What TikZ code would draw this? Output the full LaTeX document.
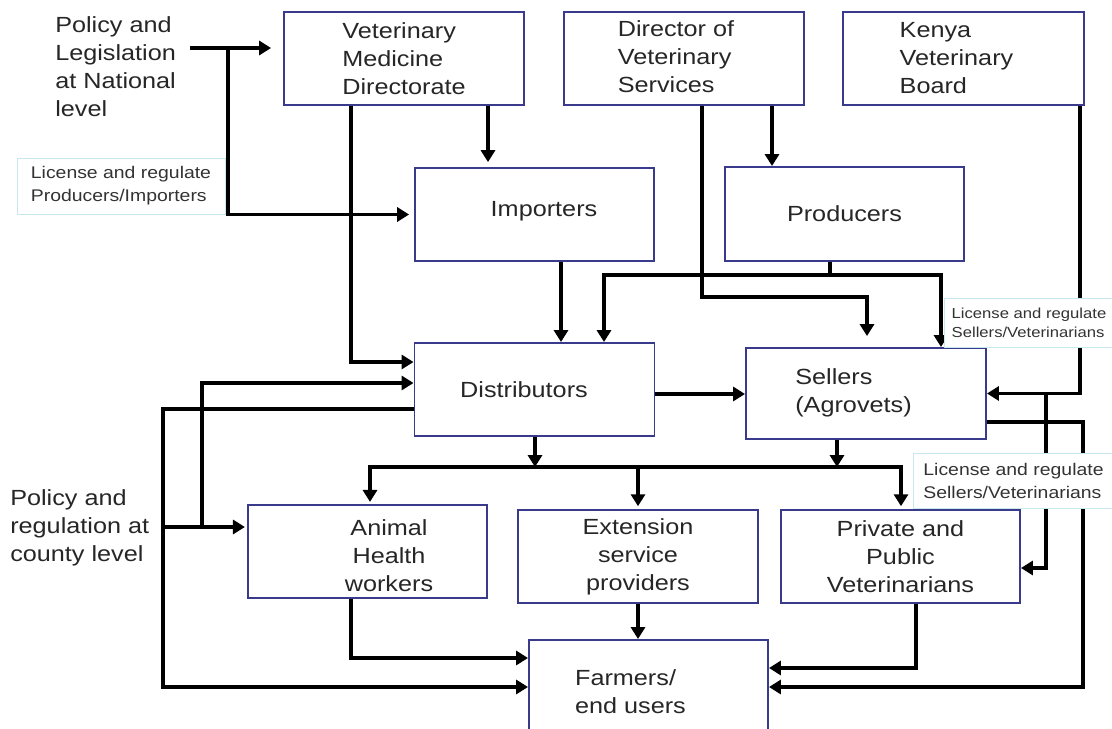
\documentclass[tikz,border=0pt]{standalone}
\usepackage{fontspec}
\setmainfont{Liberation Sans}[FakeStretch=1.15]
\usetikzlibrary{arrows.meta}

\definecolor{boxblue}{RGB}{58,58,140}
\definecolor{notecyan}{RGB}{200,232,238}
\def\pxu{0.025cm}

\begin{document}
\begin{tikzpicture}[x=0.025cm,y=-0.025cm,
  boxsize/.style 2 args={minimum width=#1*\pxu, minimum height=#2*\pxu},
  box/.style={draw=boxblue, line width=1.4pt, inner sep=0pt, text=black!85, font=\fontsize{15.6}{19.9}\selectfont},
  boxtext/.style={inner sep=0pt, text=black!85, font=\fontsize{15.6}{19.9}\selectfont},
  note/.style={draw=notecyan, fill=white, line width=0.6pt, inner sep=0pt, align=left, text=black!80, font=\fontsize{12}{16.4}\selectfont},
  conn/.style={line width=2.8pt, -{Triangle[length=8.5pt,width=10pt]}},
  bus/.style={line width=2.8pt}]

\useasboundingbox (0,0) rectangle (1112,729);

% top row
\node[box, boxsize={240}{93}, align=left] (vmd) at (404,58.5) {Veterinary\\Medicine\\Directorate};
\node[box, boxsize={240}{93}] (dvs) at (684,58.5) {};
\node[boxtext, align=left] (dvstext) at (676,57) {Director of\\Veterinary\\Services};
\node[box, boxsize={241}{93}] (kvb) at (963.5,58.5) {};
\node[boxtext, align=left] (kvbtext) at (956.5,58.5) {Kenya\\Veterinary\\Board};

% importers / producers
\node[box, boxsize={239}{93}] (imp) at (534.5,214.5) {};
\node[boxtext] (imptext) at (544,211) {Importers};
\node[box, boxsize={239}{94}] (prod) at (844.5,214) {Producers};

% distributors / sellers
\node[box, boxsize={240}{93}] (dist) at (534.5,389.5) {};
\node[boxtext] (disttext) at (524,390) {Distributors};
\node[box, boxsize={240}{91}] (sell) at (866,393.5) {};
\node[boxtext, align=left] (selltext) at (853.5,393) {Sellers\\(Agrovets)};

% bottom rows
\node[box, boxsize={239}{93}] (ahw) at (367.5,551.5) {};
\node[boxtext, align=center] (ahwtext) at (389,555.5) {Animal\\Health\\workers};
\node[box, boxsize={240}{93}, align=center] (ext) at (638,556.5) {Extension\\service\\providers};
\node[box, boxsize={239}{93}, align=center] (priv) at (900.5,556.5) {Private and\\Public\\Veterinarians};
\node[box, boxsize={239}{105}] (farm) at (648.5,692.5) {};
\node[boxtext, align=left] (farmtext) at (630.5,692) {Farmers/\\end users};

% policy levels
\node[boxtext, anchor=west, align=left] (natl) at (55,66.5) {Policy and\\Legislation\\at National\\level};
\node[boxtext, anchor=west, align=left] (cty) at (10,528) {Policy and\\regulation at\\county level};

% national level
\coordinate (natlout) at (190,48);
\coordinate (natlsplit) at (228,48);
\draw[conn, shorten >=8.5pt] (natlout) -- (vmd.west |- natlout);
\draw[conn, shorten >=3.5pt] (natlsplit) |- (imp.west);

% VMD
\draw[conn] (vmd.south -| 351,0) |- (dist.west |- 0,362);
\draw[conn, shorten >=3.5pt] (vmd.south -| 488,0) -- (imp.north -| 488,0);

% DVS
\draw[conn] (dvs.south -| 772,0) -- (prod.north -| 772,0);
\draw[conn, shorten >=7.8pt] (dvs.south -| 702,0) |- (867,297) -- (sell.north -| 867,0);

% producers
\draw[bus] (prod.south -| 830,0) -- (830,275) coordinate (prodsplit);
\draw[conn] (prodsplit) -| (dist.north -| 604,0);
\draw[conn] (prodsplit) -| (sell.north -| 941,0);

% importers
\draw[conn] (imp.south -| 561,0) -- (dist.north -| 561,0);

% KVB
\coordinate (kvbsplit) at (1046,393.5);
\draw[conn] (kvb.south -| 1080,0) |- (sell.east);
\draw[conn] (kvbsplit) |- (priv.east |- 0,568);

% sellers
\draw[conn] (sell.east |- 0,422) -| (1083,687) -- (farm.east |- 0,687);

% distributors
\draw[conn] (dist.east |- 0,394) -- (sell.west |- 0,394);
\draw[conn] (dist.south -| 535,0) -- (535,467) coordinate (distbus);
\draw[conn] (sell.south -| 837,0) -- (837,467) coordinate (sellbus);
\draw[bus] (distbus) -- (sellbus);
\draw[conn, shorten >=1.5pt] (distbus) -| (ahw.north -| 370,0);
\draw[conn, shorten >=2pt] (ext.north |- distbus) -- (ext.north);
\draw[conn, shorten >=2pt] (sellbus) -| (priv.north -| 901,0);

% to farmers
\draw[conn] (ahw.south -| 351,0) |- (farm.west |- 0,658);
\draw[conn] (ext.south) -- (ext.south |- farm.north);
\draw[conn] (priv.south -| 916,0) |- (farm.east |- 0,668);

% county level
\draw[conn] (dist.west |- 0,409) -| (163,687) -- (farm.west |- 0,687);
\coordinate (ctyout) at (163,527);
\draw[conn, shorten >=1.5pt] (ctyout) -- (ahw.west |- ctyout);
\draw[conn] (202,527) |- (dist.west |- 0,383);

% notes
\node[note, boxsize={208}{56}] (licprod) at (121,186) {License and regulate\\Producers/Importers};
\node[note, boxsize={170}{49}, font=\fontsize{10.3}{13.5}\selectfont] (licsell) at (1029,322.5) {License and regulate\\Sellers/Veterinarians};
\node[note, boxsize={201}{55}] (licvet) at (1013.5,480.5) {License and regulate\\Sellers/Veterinarians};

\end{tikzpicture}
\end{document}
